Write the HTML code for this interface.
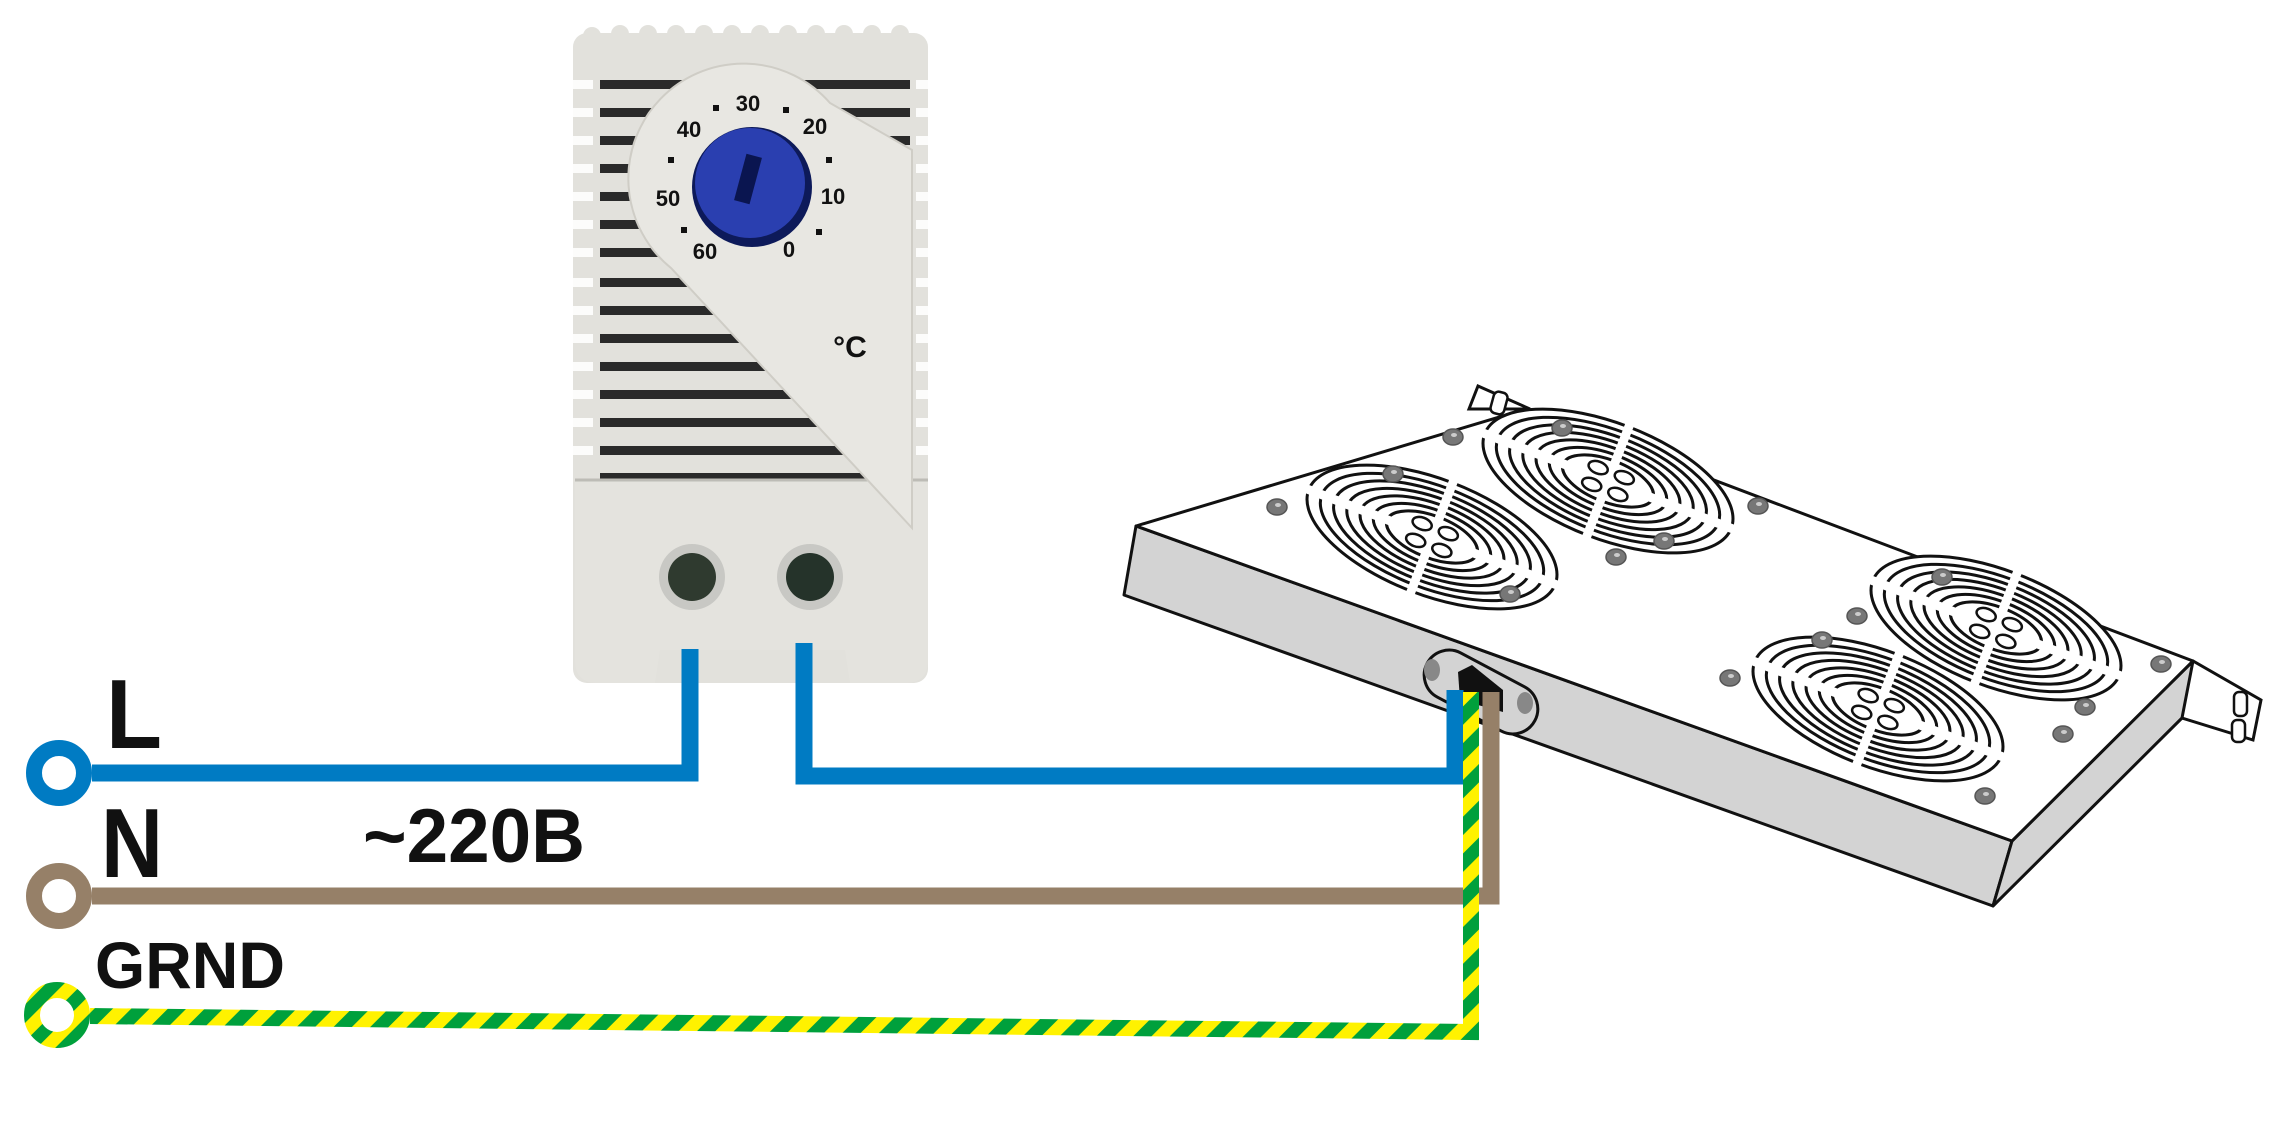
<!DOCTYPE html>
<html><head><meta charset="utf-8"><style>
html,body{margin:0;padding:0;background:#fff;}
svg{display:block;}
</style></head><body>
<svg width="2269" height="1144" viewBox="0 0 2269 1144" xmlns="http://www.w3.org/2000/svg" font-family="Liberation Sans, Arial, sans-serif">
<defs>
<pattern id="gy" patternUnits="userSpaceOnUse" width="26" height="26" patternTransform="rotate(45)">
<rect width="26" height="26" fill="#fff200"/><rect width="13" height="26" fill="#00a03c"/>
</pattern>
<g id="fan">
<ellipse rx="132" ry="58" fill="#fff" stroke="#111" stroke-width="3"/>
<ellipse rx="118" ry="51" fill="none" stroke="#111" stroke-width="3"/>
<ellipse rx="104" ry="45" fill="none" stroke="#111" stroke-width="3"/>
<ellipse rx="90" ry="39" fill="none" stroke="#111" stroke-width="3"/>
<ellipse rx="76" ry="33" fill="none" stroke="#111" stroke-width="3"/>
<ellipse rx="62" ry="27" fill="none" stroke="#111" stroke-width="3"/>
<ellipse rx="48" ry="21" fill="none" stroke="#111" stroke-width="3"/>
<line x1="-140" y1="0" x2="140" y2="0" stroke="#fff" stroke-width="9"/>
<line x1="0" y1="-62" x2="0" y2="62" stroke="#fff" stroke-width="9"/>
<ellipse cx="-14" cy="-9" rx="10" ry="6" fill="#fff" stroke="#111" stroke-width="2.5"/>
<ellipse cx="14" cy="-9" rx="10" ry="6" fill="#fff" stroke="#111" stroke-width="2.5"/>
<ellipse cx="-14" cy="9" rx="10" ry="6" fill="#fff" stroke="#111" stroke-width="2.5"/>
<ellipse cx="14" cy="9" rx="10" ry="6" fill="#fff" stroke="#111" stroke-width="2.5"/>
</g>
<g id="scr"><ellipse rx="10" ry="8" fill="#777" stroke="#555" stroke-width="1.5"/><ellipse cx="1" cy="-2" rx="3" ry="2" fill="#ccc"/></g>
</defs>

<!-- Fan unit -->
<polygon points="1469,409 1478,386 1530,409" fill="#fff" stroke="#111" stroke-width="3"/>
<rect x="1492" y="392" width="14" height="22" rx="5" transform="rotate(15 1499 403)" fill="#fff" stroke="#111" stroke-width="2.5"/>
<polygon points="2182,660 2193,661 2261,700 2253,740 2182,718" fill="#fff" stroke="#111" stroke-width="3"/>
<rect x="2234" y="692" width="13" height="24" rx="5" fill="#fff" stroke="#111" stroke-width="2.5"/>
<rect x="2232" y="720" width="13" height="22" rx="5" fill="#fff" stroke="#111" stroke-width="2.5"/>
<polygon points="1136,526 1124,595 1993,906 2012,841" fill="#d3d3d3" stroke="#111" stroke-width="3" stroke-linejoin="round"/>
<polygon points="2012,841 1993,906 2182,718 2193,661" fill="#d3d3d3" stroke="#111" stroke-width="3" stroke-linejoin="round"/>
<polygon points="1136,526 1526,409 2193,661 2012,841" fill="#fff" stroke="#111" stroke-width="3" stroke-linejoin="round"/>
<use href="#fan" transform="translate(1432,537) rotate(21)"/>
<use href="#fan" transform="translate(1608,481) rotate(21)"/>
<use href="#fan" transform="translate(1996,628) rotate(21)"/>
<use href="#fan" transform="translate(1878,709) rotate(21)"/>
<use href="#scr" transform="translate(1277,507)"/>
<use href="#scr" transform="translate(1393,474)"/>
<use href="#scr" transform="translate(1453,437)"/>
<use href="#scr" transform="translate(1562,428)"/>
<use href="#scr" transform="translate(1758,506)"/>
<use href="#scr" transform="translate(1664,541)"/>
<use href="#scr" transform="translate(1616,557)"/>
<use href="#scr" transform="translate(1510,594)"/>
<use href="#scr" transform="translate(1942,577)"/>
<use href="#scr" transform="translate(1857,616)"/>
<use href="#scr" transform="translate(1822,640)"/>
<use href="#scr" transform="translate(1730,678)"/>
<use href="#scr" transform="translate(2161,664)"/>
<use href="#scr" transform="translate(2085,707)"/>
<use href="#scr" transform="translate(2063,734)"/>
<use href="#scr" transform="translate(1985,796)"/>
<!-- connector plate -->
<rect x="1420" y="667" width="122" height="50" rx="25" transform="rotate(28 1481 692)" fill="#d3d3d3" stroke="#111" stroke-width="3"/>
<ellipse cx="1432" cy="670" rx="8" ry="11" fill="#888"/>
<ellipse cx="1525" cy="703" rx="8" ry="11" fill="#888"/>
<path d="M1458,672 L1472,665 L1503,690 L1503,712 L1460,700 Z" fill="#111"/>

<!-- Thermostat -->
<rect x="573" y="33" width="355" height="650" rx="14" fill="#e2e1dc"/>
<g fill="#e2e1dc">
<circle cx="592" cy="36" r="9"/><circle cx="620" cy="34" r="9"/><circle cx="648" cy="34" r="9"/><circle cx="676" cy="34" r="9"/><circle cx="704" cy="34" r="9"/><circle cx="732" cy="34" r="9"/><circle cx="760" cy="34" r="9"/><circle cx="788" cy="34" r="9"/><circle cx="816" cy="34" r="9"/><circle cx="844" cy="34" r="9"/><circle cx="872" cy="34" r="9"/><circle cx="900" cy="34" r="9"/>
</g>
<g fill="#2a2a2a">
<rect x="600" y="80" width="310" height="9"/><rect x="600" y="108" width="310" height="9"/><rect x="600" y="136" width="310" height="9"/><rect x="600" y="164" width="310" height="9"/><rect x="600" y="192" width="310" height="9"/><rect x="600" y="220" width="310" height="9"/><rect x="600" y="248" width="310" height="9"/><rect x="600" y="278" width="310" height="9"/><rect x="600" y="306" width="310" height="9"/><rect x="600" y="334" width="310" height="9"/><rect x="600" y="362" width="310" height="9"/><rect x="600" y="390" width="310" height="9"/><rect x="600" y="418" width="310" height="9"/><rect x="600" y="446" width="310" height="9"/><rect x="600" y="473" width="310" height="7"/>
</g>
<g fill="#fff" opacity="0.9">
<rect x="573" y="80" width="20" height="9"/><rect x="573" y="108" width="20" height="9"/><rect x="573" y="136" width="20" height="9"/><rect x="573" y="164" width="20" height="9"/><rect x="573" y="192" width="20" height="9"/><rect x="573" y="220" width="20" height="9"/><rect x="573" y="248" width="20" height="9"/><rect x="573" y="278" width="20" height="9"/><rect x="573" y="306" width="20" height="9"/><rect x="573" y="334" width="20" height="9"/><rect x="573" y="362" width="20" height="9"/><rect x="573" y="390" width="20" height="9"/><rect x="573" y="418" width="20" height="9"/><rect x="573" y="446" width="20" height="9"/>
<rect x="916" y="80" width="14" height="9"/><rect x="916" y="108" width="14" height="9"/><rect x="916" y="136" width="14" height="9"/><rect x="916" y="164" width="14" height="9"/><rect x="916" y="192" width="14" height="9"/><rect x="916" y="220" width="14" height="9"/><rect x="916" y="248" width="14" height="9"/><rect x="916" y="278" width="14" height="9"/><rect x="916" y="306" width="14" height="9"/><rect x="916" y="334" width="14" height="9"/><rect x="916" y="362" width="14" height="9"/><rect x="916" y="390" width="14" height="9"/><rect x="916" y="418" width="14" height="9"/><rect x="916" y="446" width="14" height="9"/>
</g>
<!-- base -->
<path d="M575,480 L928,480 L928,660 Q928,683 905,683 L850,683 L845,650 L660,650 L655,683 L598,683 Q575,683 575,660 Z" fill="#e4e3de"/>
<line x1="575" y1="480" x2="928" y2="480" stroke="#bdbcb6" stroke-width="3"/>
<circle cx="692" cy="577" r="33" fill="#c8c8c4"/><circle cx="692" cy="577" r="24" fill="#2f3a2f"/>
<circle cx="810" cy="577" r="33" fill="#c8c8c4"/><circle cx="810" cy="577" r="24" fill="#25332a"/>
<!-- panel -->
<path d="M671,268 A 115 115 0 1 1 830,103 L 912,150 L 912,528 Z" fill="#e8e7e2" stroke="#cfcdc6" stroke-width="2"/>
<!-- dial -->
<circle cx="752" cy="187" r="60" fill="#0d1a5a"/>
<circle cx="750" cy="183" r="55" fill="#2a3fb0"/>
<rect x="740" y="155" width="16" height="48" transform="rotate(15 748 179)" fill="#0a1550"/>
<g font-weight="bold" font-size="22" fill="#111" text-anchor="middle">
<text x="748" y="111">30</text><text x="815" y="134">20</text><text x="689" y="137">40</text>
<text x="668" y="206">50</text><text x="833" y="204">10</text><text x="705" y="259">60</text><text x="789" y="257">0</text>
<text x="850" y="357" font-size="30">°C</text>
</g>
<g fill="#111"><rect x="713" y="105" width="6" height="6"/><rect x="783" y="107" width="6" height="6"/><rect x="826" y="157" width="6" height="6"/><rect x="668" y="157" width="6" height="6"/><rect x="681" y="227" width="6" height="6"/><rect x="816" y="229" width="6" height="6"/></g>

<!-- Wires -->
<g fill="none" stroke-linejoin="miter">
<polyline points="92,773 690,773 690,649" stroke="#007bc3" stroke-width="17"/>
<polyline points="804,643 804,776 1455,776 1455,690" stroke="#007bc3" stroke-width="17"/>
<polyline points="92,896 1491,896 1491,692" stroke="#968068" stroke-width="17"/>
<polyline points="90,1016 1471,1032 1471,692" stroke="url(#gy)" stroke-width="16"/>
</g>
<circle cx="59" cy="773" r="25" fill="#fff" stroke="#007bc3" stroke-width="16"/>
<circle cx="59" cy="896" r="25" fill="#fff" stroke="#968068" stroke-width="16"/>
<circle cx="57" cy="1015" r="25" fill="#fff" stroke="url(#gy)" stroke-width="16"/>

<g font-weight="bold" fill="#111">
<text x="106" y="748" font-size="98" textLength="56" lengthAdjust="spacingAndGlyphs">L</text>
<text x="101" y="877" font-size="98" textLength="62" lengthAdjust="spacingAndGlyphs">N</text>
<text x="363" y="862" font-size="76" textLength="222" lengthAdjust="spacingAndGlyphs">~220B</text>
<text x="95" y="988" font-size="66" textLength="190" lengthAdjust="spacingAndGlyphs">GRND</text>
</g>
</svg>
</body></html>
